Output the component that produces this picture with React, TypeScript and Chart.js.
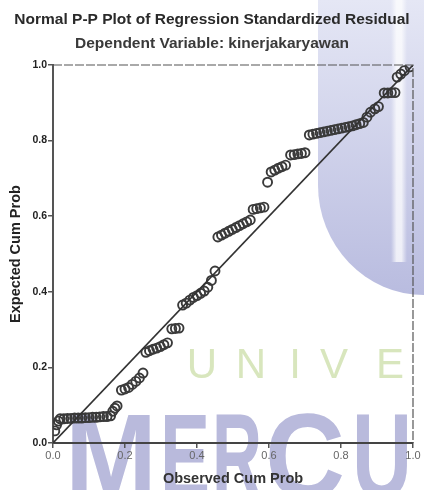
import React, { useEffect, useRef } from "react";
import { Chart, registerables } from "chart.js";

Chart.register(...registerables);

// Titles and axis text
const chartTitle = "Normal P-P Plot of Regression Standardized Residual";
const chartSubtitle = "Dependent Variable: kinerjakaryawan";
const xAxisTitle = "Observed Cum Prob";
const yAxisTitle = "Expected Cum Prob";

// Axis ticks
const tickValues = [0, 0.2, 0.4, 0.6, 0.8, 1.0];
const tickLabels = ["0.0", "0.2", "0.4", "0.6", "0.8", "1.0"];

// Observed cumulative probability of each standardized residual
const observedCumProb = [
  0.005, 0.010, 0.015,
  0.020, 0.030, 0.040, 0.050, 0.060, 0.070, 0.080, 0.090, 0.100, 0.110, 0.120, 0.130, 0.140, 0.150, 0.160,
  0.166, 0.172, 0.178,
  0.190, 0.200, 0.210, 0.220, 0.230, 0.240, 0.250,
  0.258, 0.268, 0.278, 0.288, 0.298, 0.308, 0.318,
  0.330, 0.340, 0.350,
  0.360, 0.370, 0.380, 0.390, 0.400, 0.410, 0.420, 0.430, 0.440, 0.450,
  0.458, 0.468, 0.478, 0.488, 0.498, 0.508, 0.518, 0.528, 0.538, 0.548,
  0.556, 0.566, 0.576, 0.586,
  0.596,
  0.606, 0.616, 0.626, 0.636, 0.646,
  0.660, 0.670, 0.680, 0.690, 0.700,
  0.712, 0.722, 0.732, 0.742, 0.752, 0.762, 0.772, 0.782, 0.792, 0.802, 0.812, 0.822, 0.832, 0.842, 0.852, 0.862,
  0.872, 0.882, 0.894, 0.904,
  0.920, 0.930, 0.940, 0.950,
  0.956, 0.966, 0.976, 0.992,
];

// Expected cumulative probability under the normal distribution
const expectedCumProb = [
  0.032, 0.048, 0.058,
  0.064, 0.064, 0.065, 0.065, 0.066, 0.066, 0.066, 0.067, 0.067, 0.068, 0.068, 0.069, 0.070, 0.070, 0.072,
  0.084, 0.092, 0.098,
  0.140, 0.143, 0.147, 0.155, 0.163, 0.172, 0.185,
  0.240, 0.244, 0.248, 0.251, 0.255, 0.260, 0.265,
  0.302, 0.303, 0.304,
  0.365, 0.370, 0.378, 0.385, 0.390, 0.396, 0.402, 0.412, 0.430, 0.455,
  0.545, 0.550, 0.555, 0.560, 0.565, 0.570, 0.575, 0.580, 0.585, 0.590,
  0.618, 0.620, 0.622, 0.624,
  0.690,
  0.717, 0.722, 0.727, 0.731, 0.735,
  0.762, 0.763, 0.765, 0.766, 0.768,
  0.815, 0.817, 0.819, 0.821, 0.823, 0.825, 0.827, 0.829, 0.831, 0.833, 0.835, 0.837, 0.839, 0.842, 0.845, 0.848,
  0.862, 0.875, 0.884, 0.890,
  0.926, 0.926, 0.927, 0.927,
  0.968, 0.976, 0.985, 0.995,
];

// Diagonal reference line endpoints
const referenceLine = [0, 1];

// Background watermark text
const watermarkWord = ["M", "E", "R", "C", "U"];
const watermarkLetters = ["U", "N", "I", "V", "E"];

const watermarkPlugin = {
  id: "watermark",
  beforeDraw(chart: any) {
    const ctx = chart.ctx as CanvasRenderingContext2D;
    const W = chart.width;
    const H = chart.height;
    ctx.save();
    ctx.fillStyle = "#ffffff";
    ctx.fillRect(0, 0, W, H);

    // vertical band on the right
    const g = ctx.createLinearGradient(0, 0, 0, 300);
    g.addColorStop(0, "#e5e7f5");
    g.addColorStop(1, "#b8bbdf");
    ctx.fillStyle = g;
    ctx.beginPath();
    ctx.moveTo(318, 0);
    ctx.lineTo(318, 185);
    ctx.ellipse(424, 185, 106, 110, 0, Math.PI, Math.PI / 2, true);
    ctx.lineTo(424, 0);
    ctx.closePath();
    ctx.fill();

    // pale strip inside the band
    const s = ctx.createLinearGradient(391, 0, 407, 0);
    s.addColorStop(0, "rgba(255,255,255,0)");
    s.addColorStop(0.35, "rgba(255,255,255,0.75)");
    s.addColorStop(0.65, "rgba(255,255,255,0.75)");
    s.addColorStop(1, "rgba(255,255,255,0)");
    ctx.fillStyle = s;
    ctx.fillRect(391, 0, 16, 262);

    // spaced green letters
    ctx.fillStyle = "#d8e6bd";
    ctx.font = '42px "Liberation Sans"';
    ctx.textAlign = "center";
    ctx.textBaseline = "alphabetic";
    const centers = [202, 251, 295, 334, 390];
    watermarkLetters.forEach((ch, i) => ctx.fillText(ch, centers[i], 378));

    // large purple word
    ctx.fillStyle = "#b9badc";
    ctx.font = 'bold 120px "Liberation Sans"';
    ctx.textAlign = "left";
    const spans = [
      [65, 157],
      [160, 210],
      [212, 262],
      [265, 345],
      [352, 412],
    ];
    watermarkWord.forEach((ch, i) => {
      const w = ctx.measureText(ch).width;
      const [a, b] = spans[i];
      ctx.save();
      ctx.translate(a, 498);
      ctx.scale((b - a) / w, 1);
      ctx.fillText(ch, 0, 0);
      ctx.restore();
    });
    ctx.restore();
  },
};

const framePlugin = {
  id: "frame",
  afterDatasetsDraw(chart: any) {
    const ctx = chart.ctx as CanvasRenderingContext2D;
    const { left, right, top, bottom } = chart.chartArea;
    ctx.save();
    ctx.strokeStyle = "#555555";
    ctx.lineWidth = 1.2;
    ctx.setLineDash([9, 2]);
    ctx.beginPath();
    ctx.moveTo(left, top);
    ctx.lineTo(right, top);
    ctx.lineTo(right, bottom);
    ctx.stroke();
    ctx.restore();
  },
};

const titlePlugin = {
  id: "titles",
  afterDraw(chart: any) {
    const ctx = chart.ctx as CanvasRenderingContext2D;
    ctx.save();
    ctx.textAlign = "center";
    ctx.textBaseline = "alphabetic";
    ctx.fillStyle = "#2a2a2a";
    ctx.font = 'bold 15.5px "Liberation Sans"';
    ctx.fillText(chartTitle, 212, 24);
    ctx.fillStyle = "#3a3a3a";
    ctx.font = 'bold 15.5px "Liberation Sans"';
    ctx.fillText(chartSubtitle, 212, 48);
    ctx.restore();
  },
};

export default function App() {
  const canvasRef = useRef<HTMLCanvasElement | null>(null);

  useEffect(() => {
    document.body.style.margin = "0";
    const canvas = canvasRef.current;
    if (!canvas) return;

    const points = observedCumProb.map((x, i) => ({ x, y: expectedCumProb[i] }));
    const line = referenceLine.map((v) => ({ x: v, y: v }));
    const setTicks = (scale: any) => {
      scale.ticks = tickValues.map((value) => ({ value }));
    };
    const labelFor = (v: any) => {
      const idx = tickValues.findIndex((t) => Math.abs(t - Number(v)) < 1e-9);
      return idx >= 0 ? tickLabels[idx] : "";
    };

    const chart = new Chart(canvas, {
      type: "scatter",
      data: {
        datasets: [
          {
            type: "line",
            data: line,
            borderColor: "#333333",
            borderWidth: 1.6,
            pointRadius: 0,
            fill: false,
          } as any,
          {
            data: points,
            pointRadius: 4.5,
            pointBorderWidth: 1.9,
            pointBorderColor: "#3a3a3a",
            pointBackgroundColor: "rgba(0,0,0,0)",
            borderColor: "#3a3a3a",
            backgroundColor: "rgba(0,0,0,0)",
          },
        ],
      },
      options: {
        responsive: false,
        animation: false,
        events: [],
        layout: { padding: { top: 65, right: 11, bottom: 0, left: 0 } },
        plugins: {
          legend: { display: false },
          tooltip: { enabled: false },
          title: { display: false },
        },
        scales: {
          x: {
            type: "linear",
            min: 0,
            max: 1,
            afterBuildTicks: setTicks,
            afterFit: (s: any) => {
              s.height = 47;
            },
            ticks: {
              callback: labelFor,
              color: "#666666",
              font: { family: "Liberation Sans", size: 11 },
              padding: 1,
              maxRotation: 0,
            },
            grid: {
              display: true,
              drawOnChartArea: false,
              drawTicks: true,
              tickLength: 5,
              color: "#555555",
              lineWidth: 1.5,
            },
            border: { display: true, color: "#444444", width: 2 },
            title: {
              display: true,
              text: xAxisTitle,
              color: "#333333",
              font: { family: "Liberation Sans", size: 14.5, weight: "bold" },
              padding: { top: 0, bottom: 2 },
            },
          },
          y: {
            type: "linear",
            min: 0,
            max: 1,
            afterBuildTicks: setTicks,
            afterFit: (s: any) => {
              s.width = 53;
            },
            ticks: {
              callback: labelFor,
              color: "#222222",
              font: { family: "Liberation Sans", size: 10.5, weight: "bold" },
              padding: 1,
            },
            grid: {
              display: true,
              drawOnChartArea: false,
              drawTicks: true,
              tickLength: 5,
              color: "#555555",
              lineWidth: 1.5,
            },
            border: { display: true, color: "#555555", width: 2 },
            title: {
              display: true,
              text: yAxisTitle,
              color: "#222222",
              font: { family: "Liberation Sans", size: 14.5, weight: "bold" },
              padding: { top: 7, bottom: 0 },
            },
          },
        },
      },
      plugins: [watermarkPlugin, framePlugin, titlePlugin],
    });

    return () => chart.destroy();
  }, []);

  return (
    <div style={{ width: 424, height: 490 }}>
      <canvas ref={canvasRef} width={424} height={490} style={{ display: "block", width: 424, height: 490 }} />
    </div>
  );
}
